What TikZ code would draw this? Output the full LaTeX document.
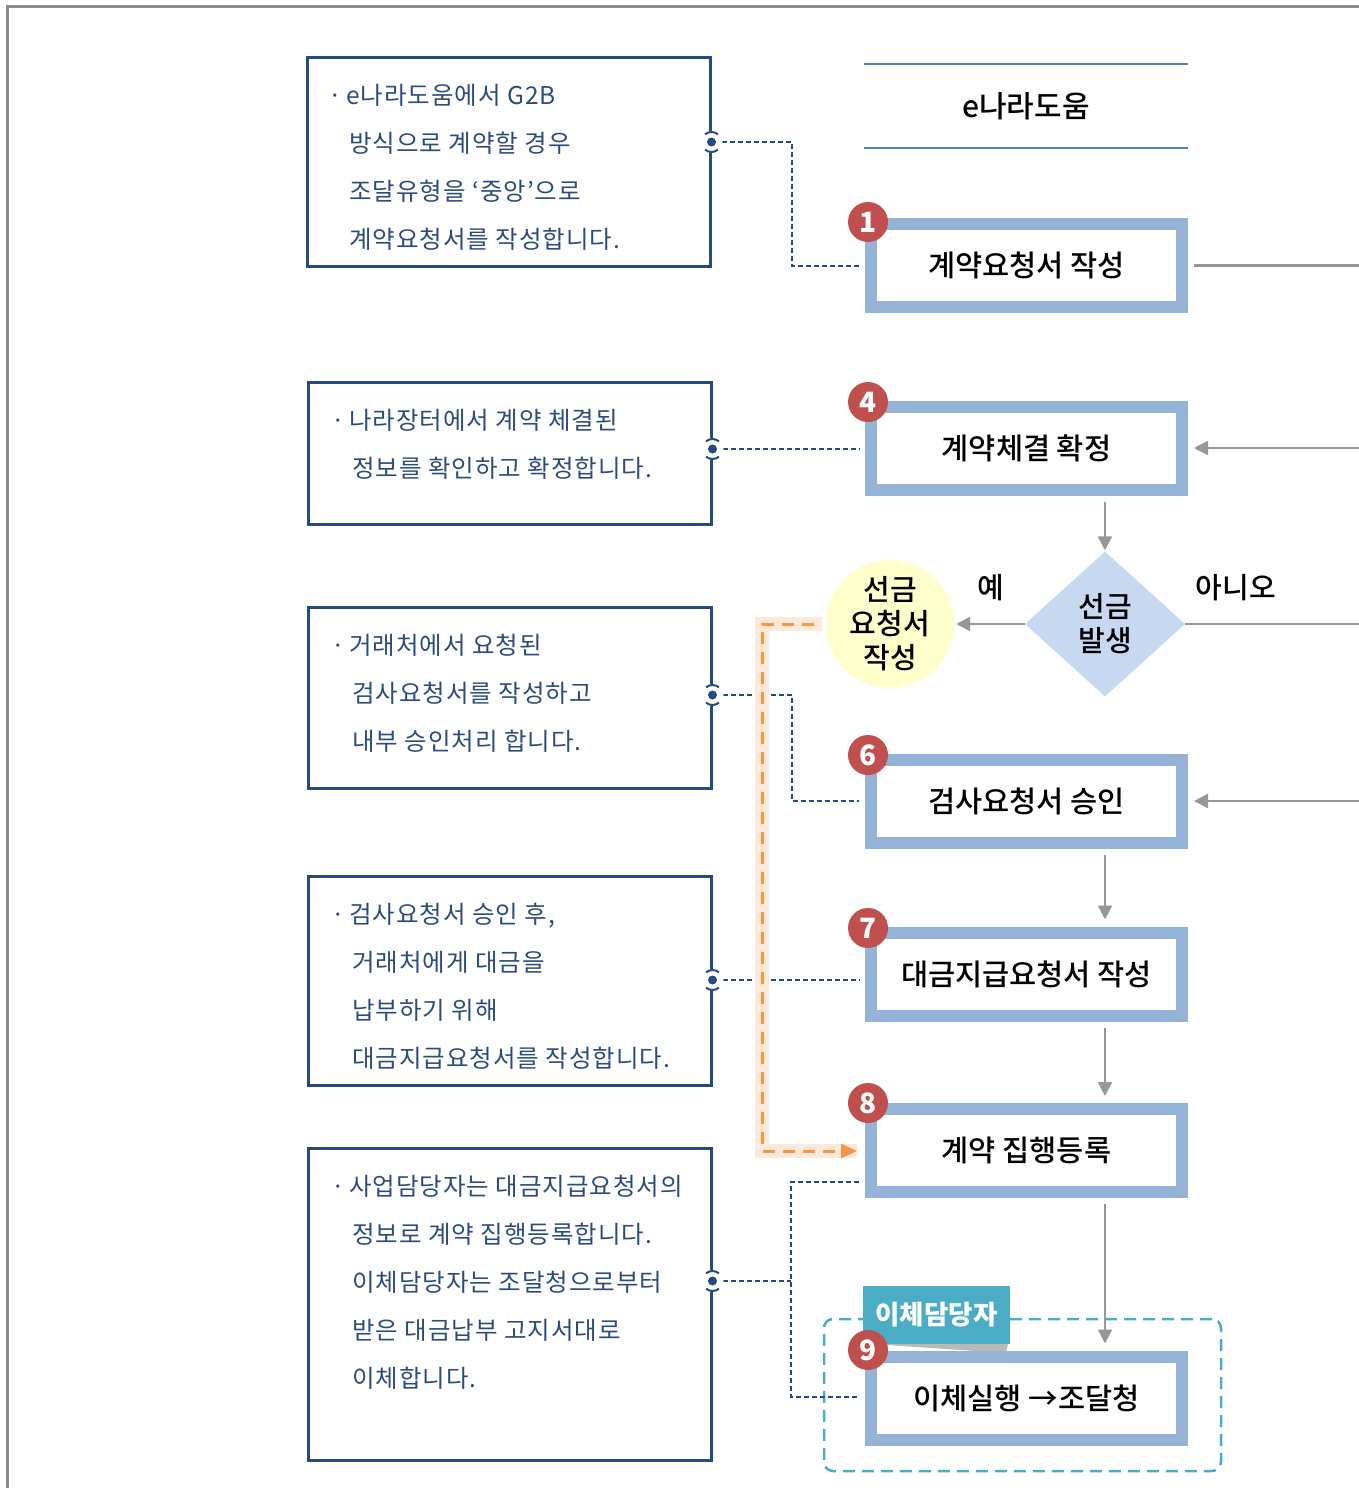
\documentclass[tikz,border=0pt]{standalone}
\usepackage{fontspec}
\newfontfamily\kr{Noto Sans CJK KR}
\newfontfamily\krl[LetterSpace=4]{Noto Sans CJK KR}
\newfontfamily\krm{Noto Sans CJK KR Medium}
\usetikzlibrary{arrows.meta,shapes.geometric,calc}
\definecolor{navy}{HTML}{244A7F}
\definecolor{navytxt}{HTML}{2C4C7E}
\definecolor{lblue}{HTML}{95B3D7}
\definecolor{hblue}{HTML}{4F81BD}
\definecolor{redc}{HTML}{C0504D}
\definecolor{dmfill}{HTML}{C6D9F1}
\definecolor{ycfill}{HTML}{FFFFCC}
\definecolor{garrowc}{HTML}{979797}
\definecolor{framec}{HTML}{8C8C8C}
\definecolor{tealc}{HTML}{4BACC6}
\definecolor{orangec}{HTML}{F79646}
\definecolor{peach}{HTML}{FDE9D9}
\begin{document}
\begin{tikzpicture}[x=1pt,y=-1pt,
  leftbox/.style={draw=navy, line width=3pt, minimum width=403pt, inner sep=0pt},
  lefttext/.style={anchor=west, align=left, inner sep=0pt, text=navytxt, font=\krl\fontsize{24.5}{48}\selectfont},
  pbox/.style={draw=lblue, line width=12pt, fill=white, minimum width=311pt, minimum height=83pt, inner sep=0pt, font=\krm\fontsize{29.5}{34}\selectfont},
  numc/.style={circle, fill=redc, text=white, minimum size=40pt, inner sep=0pt, font=\kr\bfseries\fontsize{28}{30}\selectfont},
  dashline/.style={draw=navy, line width=2pt, dash pattern=on 5pt off 3pt},
  gline/.style={draw=garrowc, line width=2.5pt},
  garrow/.style={gline, -{Triangle[length=14pt,width=14pt]}},
  bigtxt/.style={font=\krm\fontsize{29}{34}\selectfont, align=center, inner sep=0pt}
]
\useasboundingbox (0,0) rectangle (1359,1488);
% frame
\draw[framec, line width=3pt] (7,1488) -- (7,7) -- (1359,7);

% header
\node[bigtxt, font=\krm\fontsize{30}{34}\selectfont, minimum width=324pt, minimum height=84pt] (hdr) at (1026,106) {e나라도움};
\draw[hblue, line width=2pt] (hdr.north west) -- (hdr.north east);
\draw[hblue, line width=2pt] (hdr.south west) -- (hdr.south east);

% left boxes
\node[leftbox, minimum height=208pt] (A) at (508.5,162) {};
\node[leftbox, minimum height=142pt] (B) at (509.5,453) {};
\node[leftbox, minimum height=181pt] (C) at (509.5,697.5) {};
\node[leftbox, minimum height=209pt] (D) at (509.5,980.5) {};
\node[leftbox, minimum height=312pt] (E) at (509.5,1304) {};

\node[lefttext] (tA) at (328,167) {\makebox[18pt][l]{·}e나라도움에서 G2B\\\hspace*{21pt}방식으로 계약할 경우\\\hspace*{21pt}조달유형을 ‘중앙’으로\\\hspace*{21pt}계약요청서를 작성합니다.};
\node[lefttext] (tB) at (331,444) {\makebox[18pt][l]{·}나라장터에서 계약 체결된\\\hspace*{21pt}정보를 확인하고 확정합니다.};
\node[lefttext] (tC) at (331,693) {\makebox[18pt][l]{·}거래처에서 요청된\\\hspace*{21pt}검사요청서를 작성하고\\\hspace*{21pt}내부 승인처리 합니다.};
\node[lefttext] (tD) at (331,986) {\makebox[18pt][l]{·}검사요청서 승인 후,\\\hspace*{21pt}거래처에게 대금을\\\hspace*{21pt}납부하기 위해\\\hspace*{21pt}대금지급요청서를 작성합니다.};
\node[lefttext] (tE) at (331,1282) {\makebox[18pt][l]{·}사업담당자는 대금지급요청서의\\\hspace*{21pt}정보로 계약 집행등록합니다.\\\hspace*{21pt}이체담당자는 조달청으로부터\\\hspace*{21pt}받은 대금납부 고지서대로\\\hspace*{21pt}이체합니다.};

% dot coordinates
\coordinate (pa) at (A.east |- 0,142);
\coordinate (pb) at (B.east |- 0,449);
\coordinate (pc) at (C.east |- 0,695);
\coordinate (pd) at (D.east |- 0,980);
\coordinate (pe) at (E.east |- 0,1281);

% group and label for step 9
\node[draw=tealc, line width=2.5pt, dash pattern=on 12pt off 7pt, rounded corners=9pt, minimum width=397pt, minimum height=152pt, inner sep=0pt] (grp) at (1022.5,1395) {};
\fill[gray!55] (872,1344) -- (1008,1344) -- (1006,1353) -- cycle;
\node[fill=tealc, text=white, minimum width=147pt, minimum height=58pt, inner sep=0pt, font=\kr\bfseries\fontsize{26.5}{30}\selectfont] (lab) at (936.5,1315) {이체담당자};

% process boxes
\node[pbox] (b1) at (1026.5,265.5) {계약요청서 작성};
\node[pbox] (b4) at (1026.5,448) {계약체결 확정};
\node[pbox] (b6) at (1026.5,801) {검사요청서 승인};
\node[pbox] (b7) at (1026.5,974) {대금지급요청서 작성};
\node[pbox] (b8) at (1026.5,1150.5) {계약 집행등록};
\node[pbox] (b9) at (1026.5,1398) {이체실행 →조달청};

% decision and advance payment
\node[diamond, fill=dmfill, minimum width=160pt, minimum height=145pt, inner sep=0pt, bigtxt] (dm) at (1105,624) {선금\\발생};
\node[circle, fill=ycfill, minimum size=128pt, inner sep=0pt, bigtxt] (yc) at (890,624) {선금\\요청서\\작성};
\node[bigtxt] (yes) at (991,588) {예};
\node[bigtxt] (no) at (1236,588) {아니오};

% right edge coordinates
\coordinate (r1) at (b1.east -| 1359,0);
\coordinate (r4) at (b4.east -| 1359,0);
\coordinate (rd) at (dm.east -| 1359,0);
\coordinate (r6) at (b6.east -| 1359,0);
% vertical flow coordinates at x of the decision
\coordinate (s4) at (dm.north |- b4.south);
\coordinate (s6) at (dm.north |- b6.south);
\coordinate (t7) at (dm.north |- b7.north);
\coordinate (s7) at (dm.north |- b7.south);
\coordinate (t8) at (dm.north |- b8.north);
\coordinate (s8) at (dm.north |- b8.south);
\coordinate (t9) at (dm.north |- b9.north);

% gray connectors
\draw[gline] ([xshift=6pt]b1.east) -- (r1);
\draw[garrow] (r4) -- ([xshift=6pt]b4.east);
\draw[garrow] ([yshift=-6pt]s4) -- ([yshift=1pt]dm.north);
\draw[gline] (dm.east) -- (rd);
\draw[garrow] (dm.west) -- ([xshift=2pt]yc.east);
\draw[garrow] (r6) -- ([xshift=6pt]b6.east);
\draw[garrow] ([yshift=-6pt]s6) -- ([yshift=7pt]t7);
\draw[garrow] ([yshift=-6pt]s7) -- ([yshift=7pt]t8);
\draw[garrow] ([yshift=-6pt]s8) -- ([yshift=7pt]t9);

% dashed connectors from descriptions
\draw[dashline] ([xshift=10pt]pa) -- (792,142) |- ([xshift=-6pt]b1.west);
\draw[dashline] ([xshift=10pt]pb) -- ([xshift=-6pt]pb -| b4.west);
\draw[dashline] ([xshift=10pt]pc) -- (792,695) |- ([xshift=-6pt]b6.west);
\draw[dashline] ([xshift=10pt]pd) -- ([xshift=-6pt]pd -| b7.west);
\coordinate (e8) at ([xshift=-6pt]b8.west |- 0,1182);
\coordinate (e9) at ([xshift=-6pt]b9.west);
\draw[dashline] ([xshift=10pt]pe) -- (791,1281);
\draw[dashline] (e8) -- (791,1182) -- (791,1397) -- (e9 |- 0,1397);

% orange flow
\draw[peach, line width=14pt] ([xshift=-4pt]yc.west) -- (762,624) -- (762,1151) -- ([xshift=-8pt]b8.west |- 0,1151);
\draw[orangec, line width=3pt, dash pattern=on 12pt off 8pt, -{Triangle[length=16pt,width=14pt]}] ([xshift=-12pt]yc.west) -- (762,624) -- (762,1151) -- ([xshift=-8pt]b8.west |- 0,1151);

% connection dots
\foreach \p in {pa,pb,pc,pd,pe}{
  \fill[white] (\p) circle (11pt);
  \draw[navy, line width=2pt] (\p) ++(230:10) arc (230:310:10);
  \draw[navy, line width=2pt] (\p) ++(50:10) arc (50:130:10);
  \fill[navy] (\p) circle (4.5pt);
}

% step numbers
\node[numc] (n1) at (868,222) {1};
\node[numc] (n4) at (868,402) {4};
\node[numc] (n6) at (868,755) {6};
\node[numc] (n7) at (868,928) {7};
\node[numc] (n8) at (868,1103) {8};
\node[numc] (n9) at (868,1350) {9};
\end{tikzpicture}
\end{document}
